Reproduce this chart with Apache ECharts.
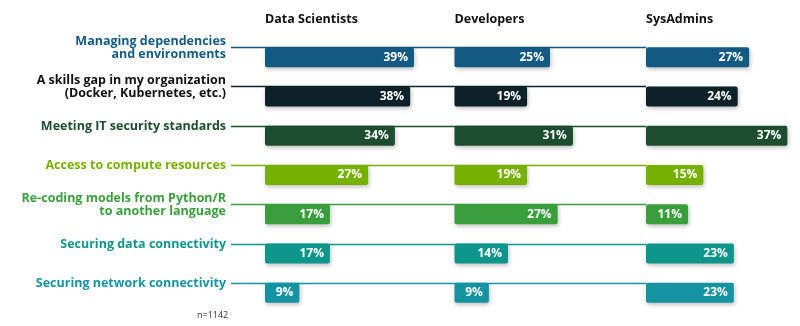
<!DOCTYPE html>
<html><head><meta charset="utf-8">
<script src="https://cdn.jsdelivr.net/npm/echarts@6/dist/echarts.min.js"></script>
<style>html,body{margin:0;padding:0;background:#fff}#c{width:800px;height:326px}</style>
</head><body><div id="c"></div>
<script>
var categories = ['Managing dependencies\nand environments','A skills gap in my organization\n(Docker, Kubernetes, etc.)','Meeting IT security standards','Access to compute resources','Re-coding models from Python/R\nto another language','Securing data connectivity','Securing network connectivity'];
var groups = ['Data Scientists','Developers','SysAdmins'];
var dataScientists = [39,38,34,27,17,17,9];
var developers = [25,19,31,19,27,14,9];
var sysAdmins = [27,24,37,15,11,23,23];
var colors = ['#135a83','#0d2128','#1b4d2e','#76b000','#3a9e3c','#0f968c','#1593a3'];
var labelColors = ['#135a83','#111111','#1b4d2e','#76b000','#3a9e3c','#0f968c','#1593a3'];
var note = 'n=1142';

var FONT = 'Open Sans';
var gridLefts = [265, 454.5, 646];
var gridW = 191, gridTop = 37.5, gridH = 275, barW = 20;
var allValues = [dataScientists, developers, sysAdmins];

var grids = [], xAxes = [], yAxes = [], series = [], titles = [];
for (var g = 0; g < 3; g++) {
  grids.push({left: gridLefts[g], top: gridTop, width: gridW, height: gridH, outerBoundsMode:'none', containLabel:false});
  xAxes.push({type:'value', gridIndex:g, min:0, max:50, show:false});
  yAxes.push({type:'category', gridIndex:g, data:categories, inverse:true, show:false});
  titles.push({text:groups[g], left:gridLefts[g]-5, top:8, textStyle:{fontFamily:FONT, fontWeight:'bold', fontSize:12.5, color:'#111'}});
}
titles.push({text:note, left:192, top:306, textStyle:{fontFamily:FONT, fontWeight:'normal', fontSize:9, color:'#333'}});

// row labels and connector lines at the top edge of each bar row
series.push({
  type:'custom', xAxisIndex:0, yAxisIndex:0, z:1, silent:true,
  data: categories.map(function(c,i){return [0,i];}),
  renderItem:function(params, api){
    var i = params.dataIndex;
    var p = api.coord([0, api.value(1)]);
    var y = Math.round(p[1] - barW/2) + 0.5;
    var x0 = params.coordSys.x;
    return {type:'group', children:[
      {type:'line', shape:{x1:x0 - 34, y1:y, x2:gridLefts[2], y2:y},
        style:{stroke:colors[i], lineWidth:1.3}},
      {type:'text', x:x0 - 39, y:y, style:{text:categories[i], align:'right', verticalAlign:'middle',
        fill:labelColors[i], font:'bold 12.5px "' + FONT + '"', lineHeight:13}}
    ]};
  }
});

for (var g = 0; g < 3; g++) {
  series.push({
    type:'bar', xAxisIndex:g, yAxisIndex:g, barWidth:barW, z:3,
    data: allValues[g].map(function(v,i){
      return {value:v, itemStyle:{color:colors[i]}};
    }),
    itemStyle:{borderRadius:2, shadowBlur:4, shadowOffsetX:1, shadowOffsetY:2, shadowColor:'rgba(0,0,0,0.25)'},
    label:{show:true, position:'insideRight', offset:[-1,0], formatter:'{c}%', color:'#fff',
      fontFamily:FONT, fontWeight:'bold', fontSize:12}
  });
}

var chart = echarts.init(document.getElementById('c'), null, {renderer:'canvas'});
chart.setOption({
  animation:false,
  title:titles, grid:grids, xAxis:xAxes, yAxis:yAxes, series:series
});
</script></body></html>
